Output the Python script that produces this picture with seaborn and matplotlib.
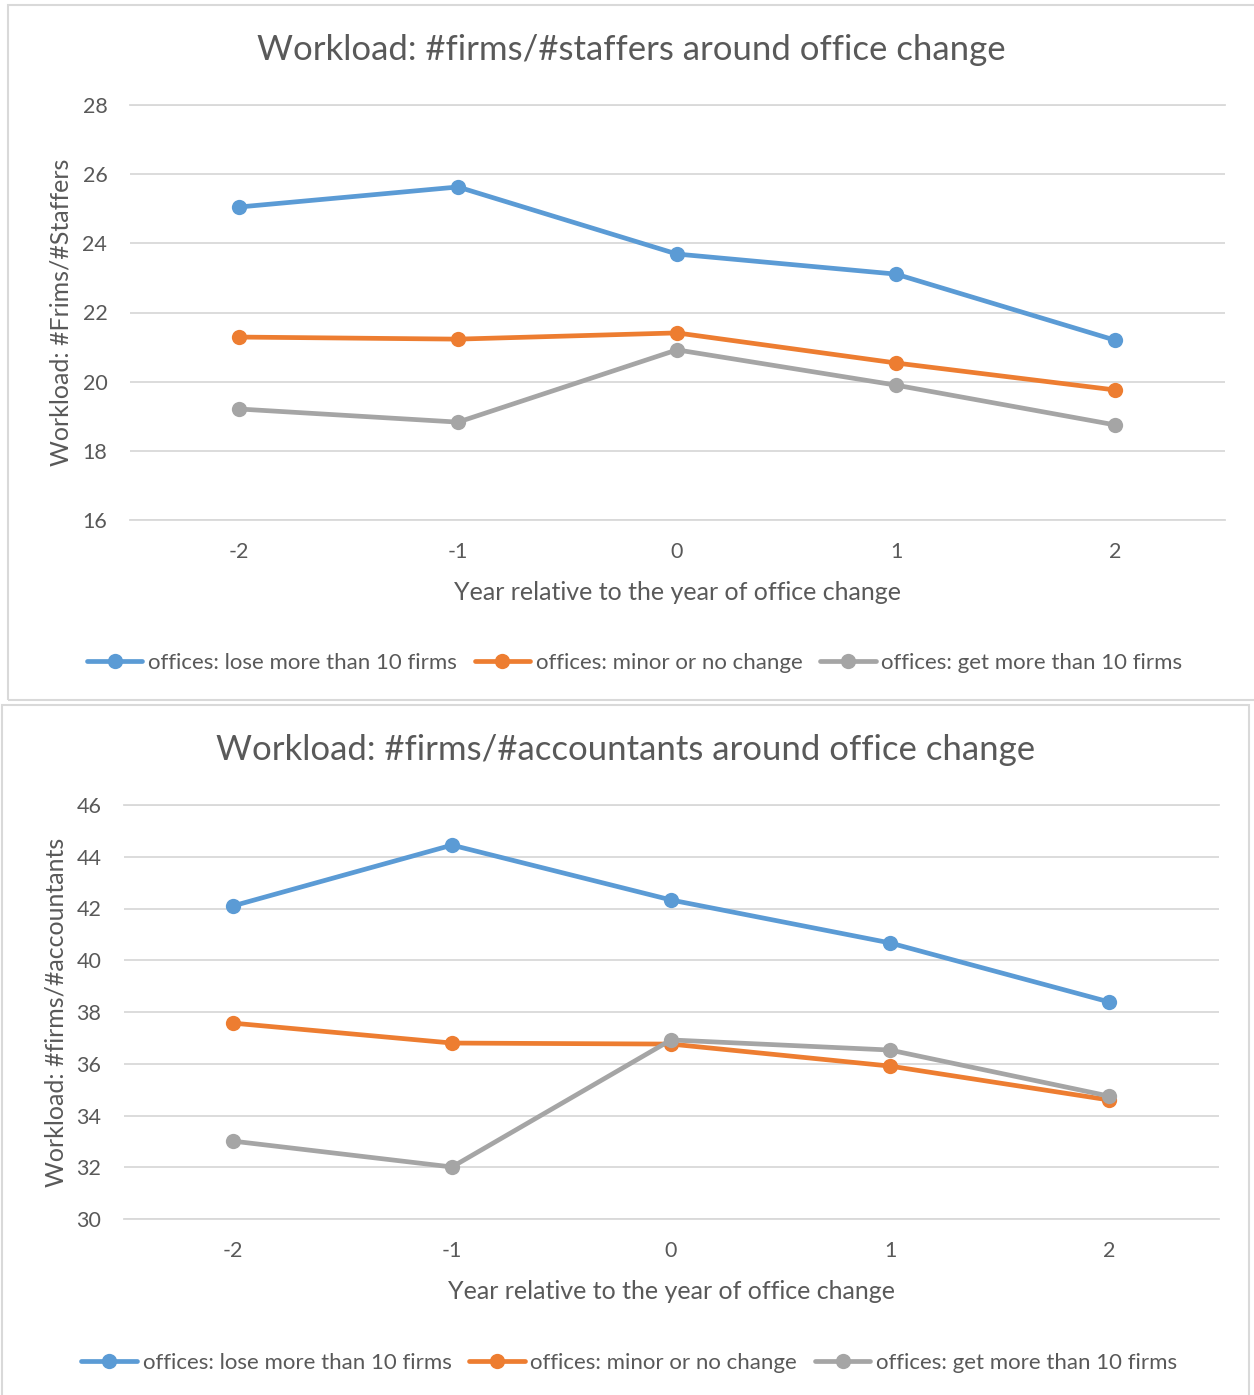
import matplotlib
matplotlib.use("Agg")
import matplotlib.pyplot as plt
import matplotlib.patches as mpatches
import numpy as np
import pandas as pd
import seaborn as sns

# Years relative to the office change
years = [-2, -1, 0, 1, 2]
series_names = [
    "offices: lose more than 10 firms",
    "offices: minor or no change",
    "offices: get more than 10 firms",
]

# Workload: #firms / #staffers
staffers_lose = [25.05, 25.63, 23.69, 23.11, 21.20]
staffers_minor = [21.29, 21.23, 21.41, 20.54, 19.76]
staffers_get = [19.21, 18.83, 20.92, 19.90, 18.75]

# Workload: #firms / #accountants
accountants_lose = [42.10, 44.45, 42.33, 40.67, 38.39]
accountants_minor = [37.57, 36.80, 36.76, 35.91, 34.60]
accountants_get = [33.01, 32.01, 36.92, 36.53, 34.75]

palette = ["#5B9BD5", "#ED7D31", "#A5A5A5"]
TEXT = "#595959"
GRID = "#D9D9D9"

sns.set_theme(style="white")
plt.rcParams["font.family"] = ["Lato", "DejaVu Sans"]

W, H = 1254, 1395
fig = plt.figure(figsize=(W / 100, H / 100), dpi=100)


def long_frame(a, b, c):
    rows = []
    for name, vals in zip(series_names, [a, b, c]):
        for x, v in zip(years, vals):
            rows.append({"year": x, "value": v, "group": name})
    return pd.DataFrame(rows)


def px_axes(left, right, top, bottom):
    return fig.add_axes([left / W, 1 - bottom / H, (right - left) / W, (bottom - top) / H])


def draw_chart(box, ax_px, data, ylim, ystep, title, ylabel, title_y, legend_y, ylabel_x):
    # chart frame
    bx0, by0, bx1, by1 = box
    fig.patches.append(mpatches.Rectangle(
        (bx0 / W, 1 - by1 / H), (bx1 - bx0) / W, (by1 - by0) / H,
        transform=fig.transFigure, fill=False, edgecolor=GRID, linewidth=1.5))

    ax = px_axes(*ax_px)
    sns.lineplot(data=data, x="year", y="value", hue="group", hue_order=series_names,
                 palette=palette, marker="o", markersize=11, markeredgewidth=0,
                 linewidth=3.4, ax=ax, legend=True)
    ax.set_xlim(-2.5, 2.5)
    ax.set_ylim(*ylim)
    ax.set_xticks(years)
    ax.set_xticklabels([str(y) for y in years])
    ax.set_yticks(np.arange(ylim[0], ylim[1] + 0.1, ystep))
    ax.yaxis.grid(True, color=GRID, linewidth=1.3)
    ax.set_axisbelow(True)
    for s in ["left", "right"]:
        ax.spines[s].set_visible(False)
    for s in ["top", "bottom"]:
        ax.spines[s].set_color(GRID)
        ax.spines[s].set_linewidth(1.3)
    ax.tick_params(axis="both", length=0, labelsize=15.5, labelcolor=TEXT)
    ax.tick_params(axis="y", pad=16)
    ax.tick_params(axis="x", pad=15.5)
    ax.set_xlabel("Year relative to the year of office change", fontsize=18, color=TEXT)
    px_w = ax_px[1] - ax_px[0]
    px_h = ax_px[3] - ax_px[2]
    ax.xaxis.set_label_coords(0.5, -61 / px_h)
    ax.set_ylabel(ylabel, fontsize=18, color=TEXT)
    ax.yaxis.set_label_coords((ylabel_x - ax_px[0]) / px_w, 0.5)

    cx = (bx0 + min(bx1, W)) / 2
    fig.text(cx / W, 1 - title_y / H, title, ha="center", va="center",
             fontsize=25, color=TEXT)

    handles, labels = ax.get_legend_handles_labels()
    ax.get_legend().remove()
    fig.legend(handles, labels, loc="center", bbox_to_anchor=(cx / W + 0.003, 1 - legend_y / H),
               ncol=3, frameon=False, fontsize=16, labelcolor=TEXT,
               handlelength=2.5, handletextpad=0.25, columnspacing=0.8, markerscale=1.0)
    return ax


draw_chart((8, 5, 1262, 700), (129.5, 1224.5, 105, 520),
           long_frame(staffers_lose, staffers_minor, staffers_get),
           (16, 28), 2, "Workload: #firms/#staffers around office change",
           "Workload: #Frims/#Staffers", 50, 663, 73)

draw_chart((2, 705, 1249, 1402), (123.5, 1218.5, 805, 1219),
           long_frame(accountants_lose, accountants_minor, accountants_get),
           (30, 46), 2, "Workload: #firms/#accountants around office change",
           "Workload: #firms/#accountants", 750, 1363, 68)

fig.savefig("out.png", dpi=100, facecolor="white")
